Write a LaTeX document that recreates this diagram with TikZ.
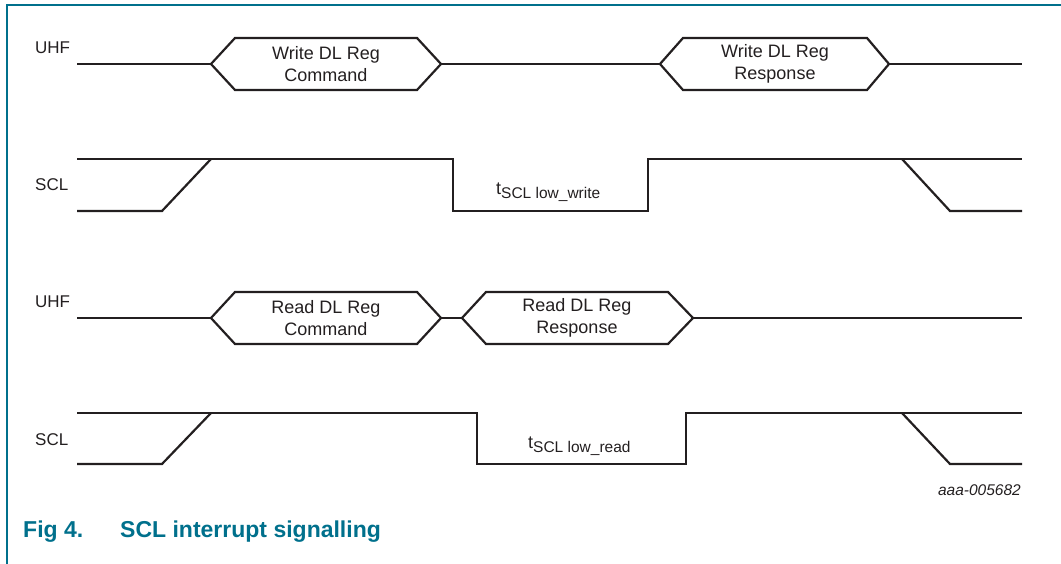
\documentclass[tikz,border=0pt]{standalone}
\usepackage{fontspec}
\setmainfont{Liberation Sans}
\definecolor{nxpteal}{RGB}{0,112,140}
\definecolor{sig}{RGB}{35,31,32}
\begin{document}
\begin{tikzpicture}[x=1pt,y=-1pt,
  sigline/.style={draw=sig,line width=2.2pt,line join=miter},
  framel/.style={draw=nxpteal,line width=1.5pt},
  lbl/.style={font=\fontsize{17}{20}\selectfont,inner sep=0pt,anchor=west,text=sig},
  hextxt/.style={font=\fontsize{18}{22}\selectfont,align=center,inner sep=0pt,text=sig},
  tlbl/.style={inner sep=0pt,anchor=base west,text=sig},
  idlbl/.style={font=\fontsize{15.5}{18}\selectfont\itshape,inner sep=0pt,anchor=east,text=sig},
  caplbl/.style={font=\fontsize{23}{27}\selectfont\bfseries,inner sep=0pt,anchor=base west,text=nxpteal}]
\useasboundingbox (0,0) rectangle (1061,564);
% frame
\draw[framel] (7,564) -- (7,5) -- (1061,5);

% ---------- Row 1 : UHF ----------
\node[lbl] (uhf1) at (35,48) {UHF};
\draw[sigline] (77,64) -- (211,64);
\draw[sigline] (211,64) -- (235,38) -- (417,38) -- (441,64) -- (417,90) -- (235,90) -- cycle;
\node[hextxt] (wcmd) at (326,64) {Write DL Reg\\Command};
\draw[sigline] (441,64) -- (660,64);
\draw[sigline] (660,64) -- (683,38) -- (867,38) -- (889,64) -- (867,90) -- (683,90) -- cycle;
\node[hextxt] (wrsp) at (775,64) {Write DL Reg\\Response};
\draw[sigline] (889,64) -- (1022,64);

% ---------- Row 1 : SCL ----------
\node[lbl] (scl1) at (35,185) {SCL};
\draw[sigline] (77,211) -- (162,211) -- (211,159);
\draw[sigline] (77,159) -- (453,159) -- (453,211) -- (648,211) -- (648,159) -- (1022,159);
\draw[sigline] (902,159) -- (950,211) -- (1022,211);
\node[tlbl] (tw) at (496,195) {{\fontsize{18}{20}\selectfont t}\raisebox{-4pt}{\fontsize{15.5}{18}\selectfont SCL low\_write}};

% ---------- Row 2 : UHF ----------
\node[lbl] (uhf2) at (35,302) {UHF};
\draw[sigline] (77,318) -- (211,318);
\draw[sigline] (211,318) -- (235,292) -- (417,292) -- (441,318) -- (417,344) -- (235,344) -- cycle;
\node[hextxt] (rcmd) at (326,318) {Read DL Reg\\Command};
\draw[sigline] (441,318) -- (462,318);
\draw[sigline] (462,318) -- (486,292) -- (668,292) -- (693,318) -- (668,344) -- (486,344) -- cycle;
\node[hextxt] (rrsp) at (577,318) {Read DL Reg\\Response};
\draw[sigline] (693,318) -- (1022,318);

% ---------- Row 2 : SCL ----------
\node[lbl] (scl2) at (35,440) {SCL};
\draw[sigline] (77,464) -- (162,464) -- (211,413);
\draw[sigline] (77,413) -- (477,413) -- (477,464) -- (686,464) -- (686,413) -- (1022,413);
\draw[sigline] (902,413) -- (950,464) -- (1022,464);
\node[tlbl] (tr) at (528,448) {{\fontsize{18}{20}\selectfont t}\raisebox{-4pt}{\fontsize{15.5}{18}\selectfont SCL low\_read}};

% ---------- id and caption ----------
\node[idlbl] (figid) at (1021,490) {aaa-005682};
\node[caplbl] (capnum) at (23,537) {Fig 4.};
\node[caplbl] (captxt) at (120,537) {SCL interrupt signalling};
\end{tikzpicture}
\end{document}
